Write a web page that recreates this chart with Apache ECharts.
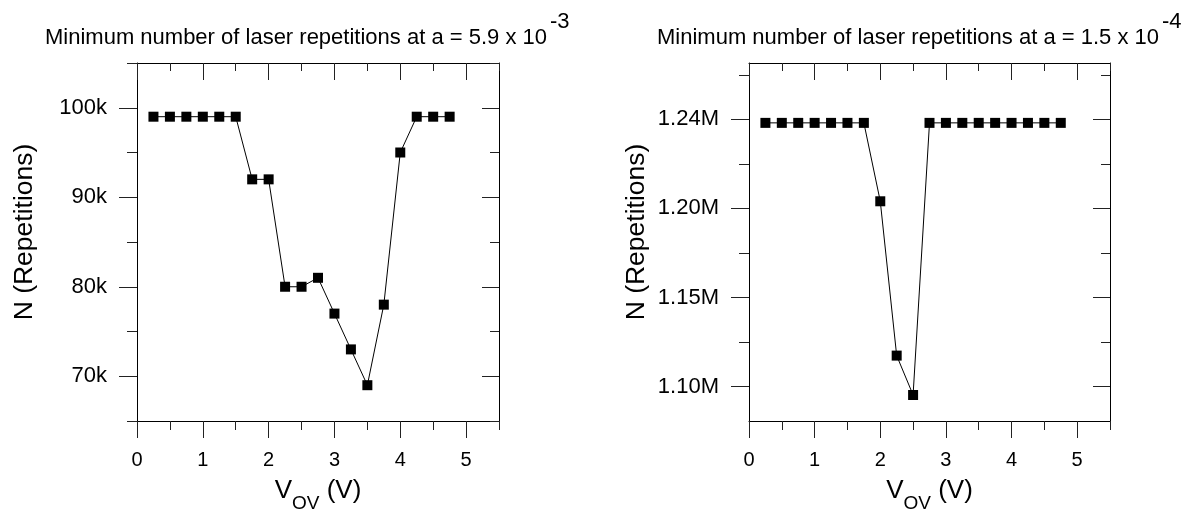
<!DOCTYPE html>
<html>
<head>
<meta charset="utf-8">
<script src="https://cdn.jsdelivr.net/npm/echarts@6/dist/echarts.min.js"></script>
<style>
html, body { margin: 0; padding: 0; background: #fff; }
#main { width: 1193px; height: 518px; }
</style>
</head>
<body>
<div id="main"></div>
<script>
// data
var vov = [0.25, 0.5, 0.75, 1, 1.25, 1.5, 1.75, 2, 2.25, 2.5, 2.75, 3, 3.25, 3.5, 3.75, 4, 4.25, 4.5, 4.75];
var repsA = [99000, 99000, 99000, 99000, 99000, 99000, 92000, 92000, 80000, 80000, 81000, 77000, 73000, 69000, 78000, 95000, 99000, 99000, 99000];
var repsB = [1248000, 1248000, 1248000, 1248000, 1248000, 1248000, 1248000, 1204000, 1117400, 1095300, 1248000, 1248000, 1248000, 1248000, 1248000, 1248000, 1248000, 1248000, 1248000];

var titleA = 'Minimum number of laser repetitions at a = 5.9 x 10';
var expA = '-3';
var titleB = 'Minimum number of laser repetitions at a = 1.5 x 10';
var expB = '-4';

var xMajor = [0, 1, 2, 3, 4, 5];
var xMinor = [0.5, 1.5, 2.5, 3.5, 4.5, 5.5];
var yMajorA = [70000, 80000, 90000, 100000];
var yMinorA = [65000, 75000, 85000, 95000, 105000];
var yMajorB = [1100000, 1150000, 1200000, 1250000];
var yMinorB = [1125000, 1175000, 1225000, 1275000];
var yLabelsB = ['1.10M', '1.15M', '1.20M', '1.24M'];

var font = '"Liberation Sans", Arial, sans-serif';
var lineSt = { color: '#000', width: 1 };
var tickSt = { color: '#222', width: 1 };

function axisLine(show) {
	return { show: show, onZero: false, lineStyle: lineSt };
}

function xAxes(gi) {
	var base = { gridIndex: gi, type: 'value', min: 0, max: 5.5, splitLine: { show: false } };
	return [
		Object.assign({}, base, {
			position: 'bottom',
			axisLine: axisLine(true),
			axisTick: { inside: false, length: 17, customValues: xMajor, lineStyle: tickSt },
			axisLabel: { customValues: xMajor, margin: 29, fontSize: 20, color: '#000', fontFamily: font },
			name: '{v|V}{s|OV}{v| (V)}',
			nameLocation: 'middle',
			nameGap: 57,
			nameTextStyle: {
				rich: {
					v: { fontSize: 26, fontFamily: font, color: '#000', lineHeight: 35, verticalAlign: 'top' },
					s: { fontSize: 19, fontFamily: font, color: '#000', lineHeight: 35, verticalAlign: 'bottom' }
				}
			}
		}),
		Object.assign({}, base, {
			position: 'bottom',
			axisLine: axisLine(false),
			axisTick: { inside: false, length: 9, customValues: xMinor, lineStyle: tickSt },
			axisLabel: { show: false }
		}),
		Object.assign({}, base, {
			position: 'top',
			axisLine: axisLine(true),
			axisTick: { inside: true, length: 17, customValues: xMajor, lineStyle: tickSt },
			axisLabel: { show: false }
		}),
		Object.assign({}, base, {
			position: 'top',
			axisLine: axisLine(false),
			axisTick: { inside: true, length: 8, customValues: xMinor, lineStyle: tickSt },
			axisLabel: { show: false }
		})
	];
}

function yAxes(gi, min, max, major, minor, fmt) {
	var base = { gridIndex: gi, type: 'value', min: min, max: max, splitLine: { show: false } };
	return [
		Object.assign({}, base, {
			position: 'left',
			axisLine: axisLine(true),
			axisTick: { inside: false, length: 18, customValues: major, lineStyle: tickSt },
			axisLabel: { customValues: major, margin: 30, fontSize: 22, color: '#000', fontFamily: font, formatter: fmt },
			name: 'N (Repetitions)',
			nameLocation: 'middle',
			nameRotate: 90,
			nameGap: 99,
			nameTextStyle: { fontSize: 26.5, fontFamily: font, color: '#000', padding: [0, 0, 0, 20] }
		}),
		Object.assign({}, base, {
			position: 'left',
			axisLine: axisLine(false),
			axisTick: { inside: false, length: 10, customValues: minor, lineStyle: tickSt },
			axisLabel: { show: false }
		}),
		Object.assign({}, base, {
			position: 'right',
			axisLine: axisLine(true),
			axisTick: { inside: true, length: 17, customValues: major, lineStyle: tickSt },
			axisLabel: { show: false }
		}),
		Object.assign({}, base, {
			position: 'right',
			axisLine: axisLine(false),
			axisTick: { inside: true, length: 9, customValues: minor, lineStyle: tickSt },
			axisLabel: { show: false }
		})
	];
}

function makeTitle(left, text, exp) {
	return {
		left: left,
		top: 11,
		padding: 0,
		text: '{t|' + text + '}{s|' + exp + '}',
		textStyle: {
			rich: {
				t: { fontSize: 22, fontWeight: 'normal', fontFamily: font, color: '#000', lineHeight: 38, verticalAlign: 'bottom' },
				s: { fontSize: 22, fontWeight: 'normal', fontFamily: font, color: '#000', lineHeight: 38, verticalAlign: 'top', padding: [0, 0, 0, 3] }
			}
		}
	};
}

function pairs(xs, ys) {
	var out = [];
	for (var i = 0; i < xs.length; i++) out.push([xs[i], ys[i]]);
	return out;
}

function lineSeries(ax, data) {
	return {
		type: 'line',
		xAxisIndex: ax,
		yAxisIndex: ax,
		data: data,
		symbol: 'rect',
		symbolSize: 10,
		itemStyle: { color: '#000' },
		lineStyle: { color: '#000', width: 1 },
		animation: false
	};
}

var chart = echarts.init(document.getElementById('main'));
var option = {
	backgroundColor: '#fff',
	animation: false,
	title: [makeTitle(45, titleA, expA), makeTitle(657, titleB, expB)],
	grid: [
		{ left: 137, top: 63, width: 362, height: 361 },
		{ left: 749, top: 63, width: 361, height: 361 }
	],
	xAxis: xAxes(0).concat(xAxes(1)),
	yAxis: yAxes(0, 65000, 105000, yMajorA, yMinorA, function (v) { return Math.round(v / 1000) + 'k'; })
		.concat(yAxes(1, 1080700, 1281600, yMajorB, yMinorB, function (v) {
			var i = yMajorB.indexOf(v);
			return i >= 0 ? yLabelsB[i] : '';
		})),
	series: [
		lineSeries(0, pairs(vov, repsA)),
		lineSeries(4, pairs(vov, repsB))
	]
};
chart.setOption(option);
</script>
</body>
</html>
